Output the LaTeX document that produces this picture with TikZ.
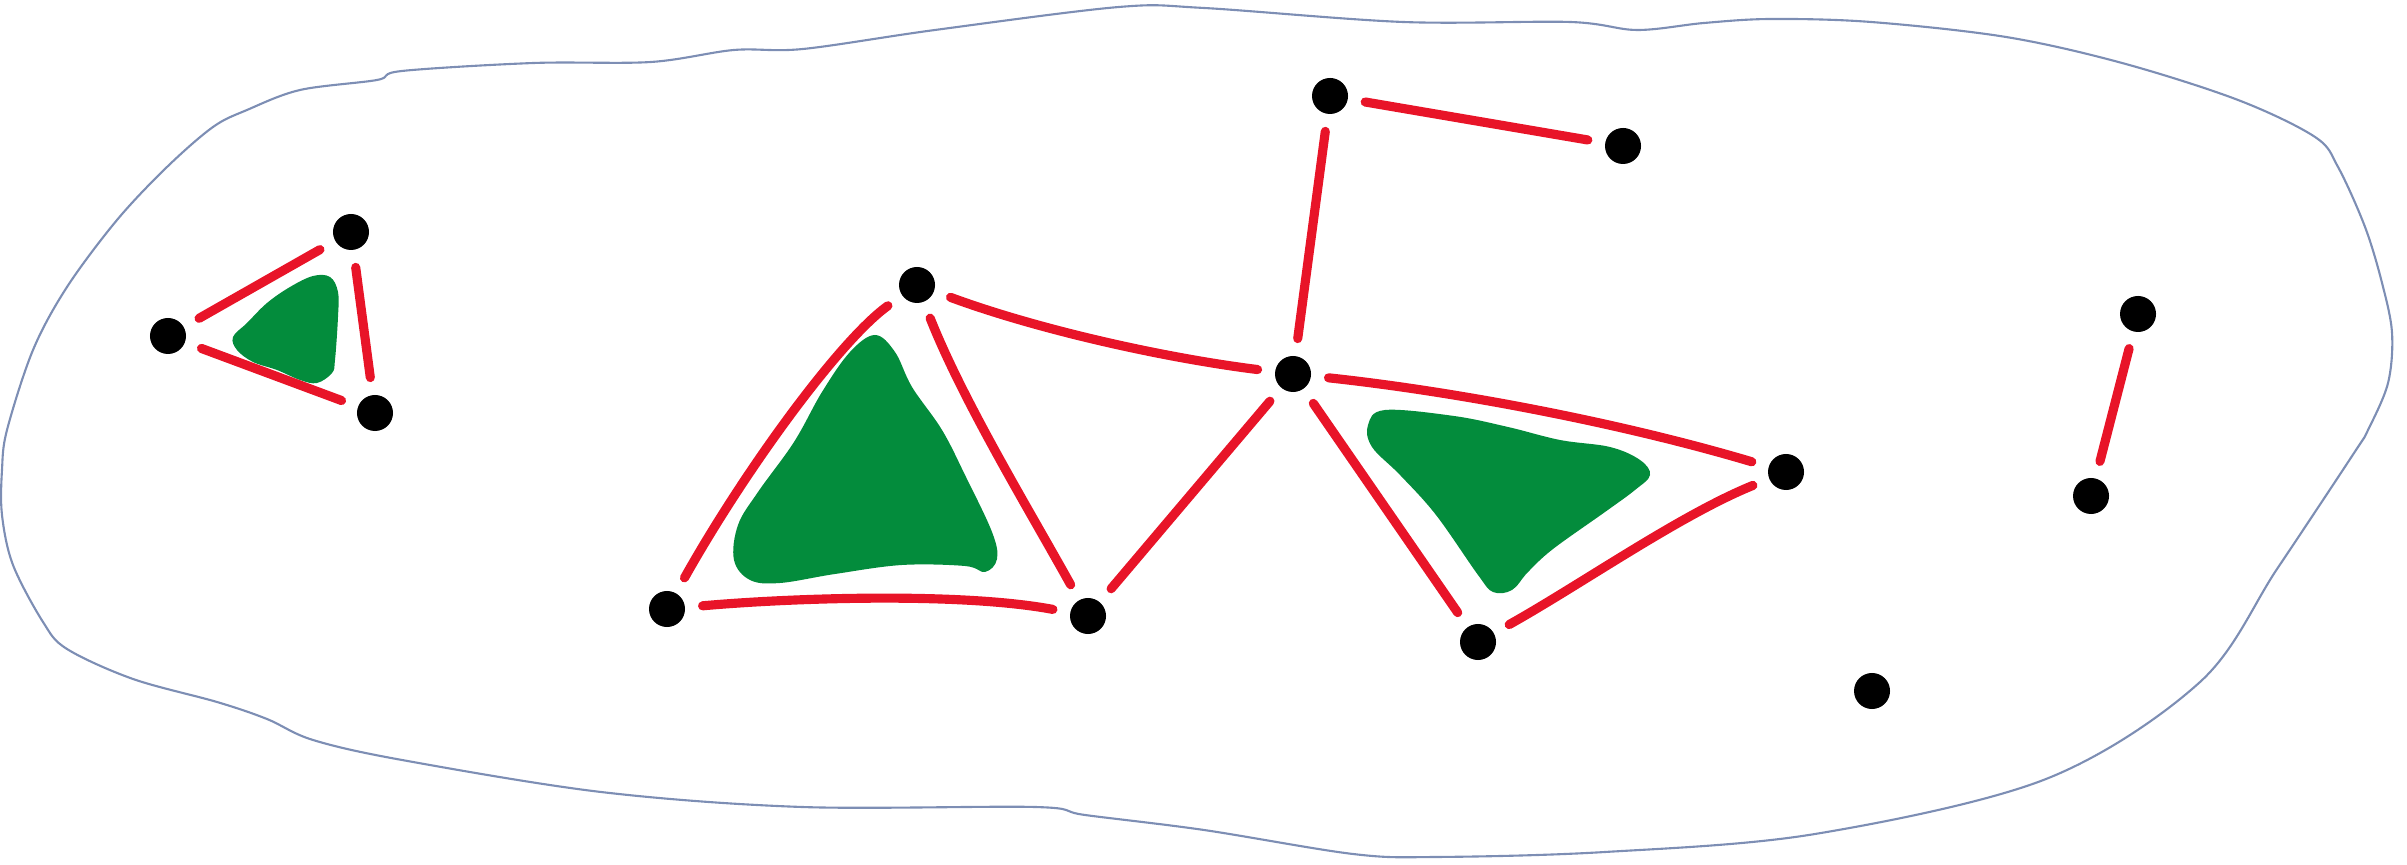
\documentclass[tikz,border=0pt]{standalone}
\definecolor{edgered}{RGB}{232,20,40}
\definecolor{leafgreen}{RGB}{3,140,60}
\definecolor{rimblue}{RGB}{125,142,180}
\begin{document}
\begin{tikzpicture}[x=0.01cm,y=-0.01cm,
  dot/.style={circle,fill=black,inner sep=0pt,minimum size=0.36cm},
  link/.style={draw=edgered,line width=2.6pt,line cap=round,shorten <=0.17cm,shorten >=0.17cm},
  blob/.style={fill=leafgreen}]
  \useasboundingbox (0,0) rectangle (2407,865);
  \draw[rimblue,line width=0.6pt] plot[smooth cycle,tension=0.55] coordinates {
    (2,470) (7,430) (33,350) (67,287) (117,220) (167,167) (213,127) (247,110)
    (300,90) (377,80) (402,71) (534,63) (651,62) (734,50) (803,49) (935,30)
    (1119,7) (1204,8) (1403,22) (1570,22) (1637,30) (1704,23) (1771,19) (1871,22)
    (2006,37) (2122,63) (2238,100) (2315,137) (2338,167) (2365,227) (2382,283)
    (2392,333) (2388,383) (2368,430) (2354,453) (2277,569) (2200,682) (2046,779)
    (1815,834) (1605,852) (1436,857) (1353,854) (1204,830) (1085,815) (1035,807)
    (802,807) (601,792) (402,760) (313,740) (267,719) (217,702) (133,679)
    (67,649) (43,622) (13,565) (2,515)};
  \fill[blob] plot[smooth cycle,tension=0.6] coordinates {
    (330,277) (338,292) (338,317) (335,360) (332,373) (317,383) (300,380)
    (277,370) (253,362) (237,350) (233,337) (247,323) (267,303) (290,287)
    (313,276)};
  \fill[blob] plot[smooth cycle,tension=0.6] coordinates {
    (875,335) (895,352) (912,387) (942,430) (965,475) (992,532) (997,559)
    (985,572) (965,566) (902,565) (835,574) (780,583) (750,580) (734,560)
    (738,525) (758,492) (794,442) (822,392) (850,352)};
  \fill[blob] plot[smooth cycle,tension=0.6] coordinates {
    (1385,410) (1454,416) (1508,427) (1560,440) (1610,447) (1640,460)
    (1650,475) (1635,490) (1605,512) (1553,549) (1528,572) (1512,590)
    (1493,592) (1478,575) (1436,515) (1400,475) (1372,447) (1368,425)};
  \node[dot] (v1) at (168,336) {};
  \node[dot] (v2) at (351,232) {};
  \node[dot] (v3) at (375,413) {};
  \node[dot] (v4) at (917,285) {};
  \node[dot] (v5) at (667,609) {};
  \node[dot] (v6) at (1088,616) {};
  \node[dot] (v7) at (1330,96) {};
  \node[dot] (v8) at (1623,146) {};
  \node[dot] (v9) at (1293,374) {};
  \node[dot] (v10) at (1786,472) {};
  \node[dot] (v11) at (1478,642) {};
  \node[dot] (v12) at (2138,314) {};
  \node[dot] (v13) at (2091,496) {};
  \node[dot] (v14) at (1872,691) {};
  \draw[link] (v1) -- (v2);
  \draw[link] (v2) -- (v3);
  \draw[link] (v1) -- (v3);
  \draw[link] (v4) .. controls (840,340) and (745,470) .. (v5);
  \draw[link] (v5) .. controls (790,598) and (960,592) .. (v6);
  \draw[link] (v4) .. controls (963,401) and (1028,508) .. (v6);
  \draw[link] (v4) .. controls (1039,330) and (1165,358) .. (v9);
  \draw[link] (v6) -- (v9);
  \draw[link] (v9) -- (v7);
  \draw[link] (v7) -- (v8);
  \draw[link] (v9) .. controls (1460,392) and (1625,424) .. (v10);
  \draw[link] (v9) -- (v11);
  \draw[link] (v11) .. controls (1580,585) and (1680,515) .. (v10);
  \draw[link] (v12) -- (v13);
\end{tikzpicture}
\end{document}
